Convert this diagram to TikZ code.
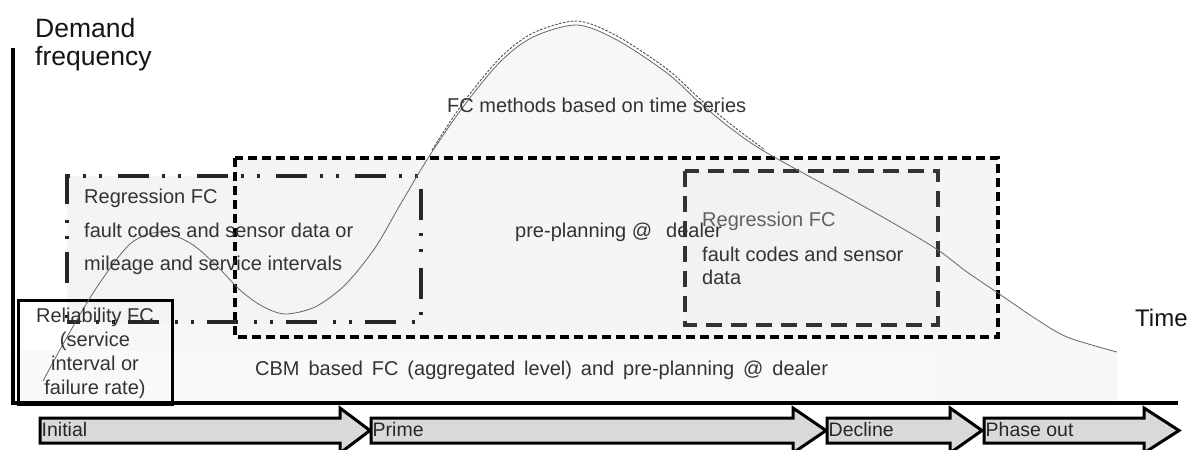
\documentclass[tikz,border=0pt]{standalone}
\usepackage{fontspec}
\setmainfont{Liberation Sans}
% block arrow of the life-cycle bar: name, start x, head base x, tip x, label
\newcommand\phasearrow[5]{%
  \draw[phasebox] (#2,418) -- (#3,418) -- (#3,408) -- (#4,430.5) -- (#3,453)
        -- (#3,443) -- (#2,443) -- cycle;
  \node[phasetxt] (#1) at (#2+1.5,436) {#5};
}
\begin{document}
\begin{tikzpicture}[x=1pt,y=-1pt,
  txt/.style={font=\fontsize{20}{24}\selectfont, text=black!80, inner sep=0pt},
  big/.style={font=\fontsize{26.5}{30}\selectfont, text=black!92, inner sep=0pt, anchor=base west},
  phasetxt/.style={font=\fontsize{19.5}{22}\selectfont, text=black!85, inner sep=0pt, anchor=base west},
  phasebox/.style={draw=black, line width=3pt, fill=black!15, line join=miter},
  curve/.style={black!60, line width=0.8pt},
  bigdash/.style={line width=4pt, dash pattern=on 9pt off 5pt},
  dashdot/.style={line width=3.2pt, black!85, dash pattern=on 31pt off 13pt on 3pt off 13pt on 3pt off 16pt},
  innerdash/.style={line width=3.5pt, black!80, dash pattern=on 16pt off 9pt},
]
\useasboundingbox (0,0) rectangle (1195,450);

% shaded area below the demand curve
\fill[black!3] plot[smooth, tension=0.5] coordinates {
  (43,381) (67,337) (97,287) (130,244) (160,232) (190,243) (215,264)
  (240,290) (262,306) (285,314) (315,307) (345,285) (375,248) (400,205)
  (430,155) (463,107) (500,62) (533,37) (577,25) (617,40) (667,73)
  (700,103) (733,130) (767,153) (847,197) (900,227) (938,250) (967,272)
  (998,293) (1033,317) (1067,337) (1117,352)} -- (1117,403) -- (43,403) -- cycle;

% background fills of the method regions
\fill[black!2.5] (15,350) rectangle (937,402);
\fill[black!4] (235,158) rectangle (998,337);
\fill[black!4.5] (67,176) rectangle (421,322);
\fill[black!5] (685,171) rectangle (938,325);

% region borders
\draw[bigdash] (235,158) rectangle (998,337);
\draw[dashdot, dash phase=40pt] (67,322) -- (67,176) -- (421,176) -- (421,322) -- cycle;
\draw[innerdash] (685,171) rectangle (938,325);
\node[draw=black, line width=3pt, minimum width=154pt, minimum height=104pt, inner sep=0pt] (relbox) at (95,352) {};

% demand curve
\draw[curve] plot[smooth, tension=0.5] coordinates {
  (43,381) (67,337) (97,287) (130,244) (160,232) (190,243) (215,264)
  (240,290) (262,306) (285,314) (315,307) (345,285) (375,248) (400,205)
  (430,155) (463,107) (500,62) (533,37) (577,25) (617,40) (667,73)
  (700,103) (733,130) (767,153) (847,197) (900,227) (938,250) (967,272)
  (998,293) (1033,317) (1067,337) (1117,352)};
\draw[black!70, line width=0.9pt, dash pattern=on 2.5pt off 1.5pt] plot[smooth, tension=0.5] coordinates {
  (432,150) (463,103) (500,58) (533,33) (577,21) (617,36) (667,69)
  (700,99) (733,126) (765,150)};

% axes
\draw[line width=4pt] (13,48) -- (13,405);
\draw[line width=3.5pt] (13,403) -- (1178,403);

% axis titles
\node[big] (ylab1) at (35,37) {Demand};
\node[big] (ylab2) at (35,65) {frequency};
\node[big, font=\fontsize{24}{28}\selectfont] (xlab) at (1135,326) {Time};

% labels of the regions
\node[txt, anchor=base west] (ts) at (447,112) {FC methods based on time series};
\node[txt, anchor=base west] (reg1a) at (84,203) {Regression FC};
\node[txt, anchor=base west] (reg1b) at (84,237) {fault codes and sensor data or};
\node[txt, anchor=base west] (reg1c) at (84,270) {mileage and service intervals};
\node[txt, anchor=base west] (pre) at (515,237) {pre-planning @\hspace{14pt}dealer};
\node[txt, anchor=base west, text=black!62] (reg2a) at (702,226) {Regression FC};
\node[txt, anchor=base west] (reg2b) at (702,261) {fault codes and sensor};
\node[txt, anchor=base west] (reg2c) at (702,284) {data};
\node[txt, anchor=base west] (cbm) at (255,375) {\spaceskip=8.9pt\relax CBM based FC (aggregated level) and pre-planning @ dealer};
\node[txt, align=center] (reltext) at (95,353.8) {Reliability FC\\(service\\interval or\\failure rate)};

% life-cycle phases
\phasearrow{initial}{40}{340}{370}{Initial}
\phasearrow{prime}{371}{793}{826}{Prime}
\phasearrow{decline}{827}{950}{982}{Decline}
\phasearrow{phaseout}{984}{1144}{1179}{Phase out}
\end{tikzpicture}
\end{document}
